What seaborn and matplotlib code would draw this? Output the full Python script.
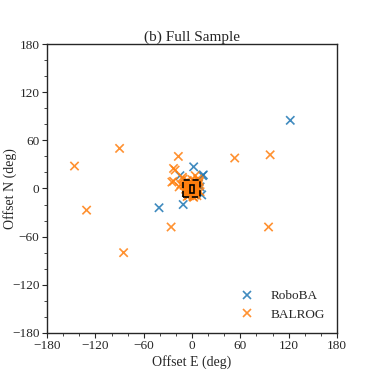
import numpy as np
import pandas as pd
import seaborn as sns
import matplotlib
import matplotlib.pyplot as plt
from matplotlib.patches import Rectangle
from matplotlib.ticker import MultipleLocator

matplotlib.use("Agg")

# %% data (offsets in degrees)
roboba_e = [122, 2, -15, 13, 14, 12, -41, -11, 8, 6, 10, 4]
roboba_n = [85, 27, 16, 16, 17, -8, -24, -20, 6, -4, 2, -6]

balrog_e = [-146, -90, -131, -85, -26, -17, -23, -21, -23, -25, 53, 97, 95,
            4, 7, 9, -6, -9, -4, 2, 5, -2, 0, 3, -7, 6, -5, 8, 1, -3, 4, -8,
            10, -10, 6, -1, 2, -6, 7, 3, -4, 0, 5, -2, 9, -11, -14, -12, -16]
balrog_n = [28, 50, -27, -80, -48, 40, 25, 23, 9, 8, 38, 42, -48,
            16, 12, 8, 10, 6, -8, 4, -6, 2, -3, 9, -5, -9, 3, 5, -10, -7, 0, -1,
            -4, 4, 1, 7, -11, -10, -2, -8, -9, 11, 6, -4, 10, 12, 5, 14, 2]

boxes = [(-11, -11, 21, 21, "--"), (-3, -5, 5, 9, "-")]

df = pd.concat([
    pd.DataFrame({"E": roboba_e, "N": roboba_n, "sample": "RoboBA"}),
    pd.DataFrame({"E": balrog_e, "N": balrog_n, "sample": "BALROG"}),
])

# %% plot
sns.set_style("ticks")
plt.rcParams["font.family"] = ["Liberation Serif", "DejaVu Serif"]

fig = plt.figure(figsize=(3.74, 3.74), dpi=100)
ax = fig.add_axes([0.126, 0.110, 0.775, 0.772])

sns.scatterplot(data=df, x="E", y="N", hue="sample",
                palette=["#1f77b4", "#ff7f0e"], marker="x", s=36,
                linewidth=1.2, alpha=0.85, ax=ax)

for x0, y0, w, h, ls in boxes:
    ax.add_patch(Rectangle((x0, y0), w, h, fill=(ls == "--"),
                           facecolor="#ff7f0e", edgecolor="black",
                           linestyle=ls, linewidth=1.2, zorder=3))

ax.set_xlim(-180, 180)
ax.set_ylim(-180, 180)
ax.xaxis.set_major_locator(MultipleLocator(60))
ax.yaxis.set_major_locator(MultipleLocator(60))
ax.xaxis.set_minor_locator(MultipleLocator(20))
ax.yaxis.set_minor_locator(MultipleLocator(20))
ax.tick_params(labelsize=9.5, direction="out", length=3.5, width=0.8, pad=2)
ax.tick_params(which="minor", length=2, width=0.6)
for sp in ax.spines.values():
    sp.set_linewidth(1.0)

ax.set_xlabel("Offset E (deg)", fontsize=10, labelpad=2)
ax.set_ylabel("Offset N (deg)", fontsize=10)
ax.yaxis.set_label_coords(-0.105, 0.5)
ax.set_title("(b) Full Sample", fontsize=11, pad=2)

ax.legend(title=None, loc="lower right", frameon=False, fontsize=9.5,
          handletextpad=0.8, borderaxespad=0.5, labelspacing=0.5)

fig.savefig("out.png", dpi=100)
